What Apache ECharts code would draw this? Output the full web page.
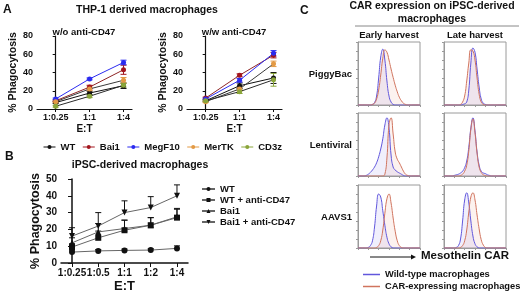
<!DOCTYPE html>
<html>
<head>
<meta charset="utf-8">
<script src="https://cdn.jsdelivr.net/npm/echarts@6/dist/echarts.min.js"></script>
<style>
  html, body { margin: 0; padding: 0; background: #fff; }
  #main { width: 520px; height: 294px; }
</style>
</head>
<body>
<div id="main"></div>
<script>
// E:T ratios
var etA = ['1:0.25', '1:1', '1:4'];
var etB = ['1:0.25', '1:0.5', '1:1', '1:2', '1:4'];

// panel A, w/o anti-CD47 (% phagocytosis)
var woWT = [7, 17.5, 25.5];
var woBai1 = [9, 24, 43];
var woMegF10 = [11, 33, 51];
var woMerTK = [8, 22, 31.5];
var woCD3z = [3, 14, 26];
var woErrWT = [1, 2, 3];
var woErrBai1 = [1, 2, 5];
var woErrMegF10 = [1, 1, 2.5];
var woErrMerTK = [1, 2, 3];
var woErrCD3z = [1, 1.5, 2];

// panel A, w/w anti-CD47
var wwWT = [9, 25.5, 34];
var wwBai1 = [12, 37, 59];
var wwMegF10 = [11, 31.5, 61];
var wwMerTK = [8, 22, 49.5];
var wwCD3z = [9, 19, 32];
var wwErrWT = [1, 3, 6];
var wwErrBai1 = [1, 1.5, 3];
var wwErrMegF10 = [1, 2, 3];
var wwErrMerTK = [1, 2, 3];
var wwErrCD3z = [1, 2, 7];

// panel B
var bWT = [6.5, 7.2, 7.5, 7.7, 8.7];
var bWTanti = [9.5, 15, 19.5, 22.5, 27];
var bBai1 = [12, 18.5, 20.5, 22.5, 27.5];
var bBai1anti = [16, 22, 30, 33, 40];
var bErrWT = [0.8, 0.8, 0.8, 0.8, 1.5];
var bErrWTanti = [2, 4, 6, 4.5, 5];
var bErrBai1 = [3, 5, 5, 4.5, 5];
var bErrBai1anti = [5, 8, 7, 6.5, 6.5];

// panel C histograms (relative counts, 31 bins along the CAR axis)
var rows = ['PiggyBac', 'Lentiviral', 'AAVS1'];
var pbEarlyWT  = [0,0,0,0,0,0,0,1,4,15,45,80,93,75,40,15,5,1,0,0,0,0,0,0,0,0,0,0,0,0,0];
var pbEarlyCAR = [0,0,0,0,0,0,0,1,3,10,25,50,78,92,88,75,60,46,33,22,13,7,3,1,0,0,0,0,0,0,0];
var pbLateWT   = [0,0,0,0,0,0,0,0,0,1,2,5,25,70,95,88,60,30,10,3,1,0,0,0,0,0,0,0,0,0,0];
var pbLateCAR  = [0,0,0,0,0,0,0,0,1,5,15,40,70,92,90,75,45,18,5,1,0,0,0,0,0,0,0,0,0,0,0];
var lvEarlyWT  = [0,0,0,0,1,3,6,10,15,22,32,45,62,85,97,80,35,15,10,7,5,3,1,0,0,0,0,0,0,0,0];
var lvEarlyCAR = [0,0,0,0,0,0,0,0,0,0,0,0,0,3,30,85,97,70,40,28,22,15,8,3,1,0,0,0,0,0,0];
var lvLateWT   = [0,0,0,0,0,1,2,3,5,8,14,25,48,80,97,75,40,18,8,5,4,2,1,0,0,0,0,0,0,0,0];
var lvLateCAR  = [0,0,0,0,0,0,0,0,1,3,8,18,42,78,95,72,38,15,6,2,1,0,0,0,0,0,0,0,0,0,0];
var aaEarlyWT  = [0,0,0,0,0,1,4,12,35,70,90,85,62,38,18,7,2,0,0,0,0,0,0,0,0,0,0,0,0,0,0];
var aaEarlyCAR = [0,0,0,0,0,0,0,0,0,1,4,12,30,58,82,90,75,50,28,12,4,1,0,0,0,0,0,0,0,0,0];
var aaLateWT   = [0,0,0,0,0,0,1,4,15,45,80,92,75,45,20,7,2,0,0,0,0,0,0,0,0,0,0,0,0,0,0];
var aaLateCAR  = [0,0,0,0,0,0,0,0,1,4,12,30,60,85,92,80,55,32,14,5,1,0,0,0,0,0,0,0,0,0,0];

var FONT = '"Liberation Sans", Arial, sans-serif';
var colA = { WT: '#111111', Bai1: '#a3161e', MegF10: '#2b2bf0', MerTK: '#e39a45', CD3z: '#8aa53a' };
var lineA = { WT: '#111111', Bai1: '#8e2424', MegF10: '#2b2bf0', MerTK: '#3a3a3a', CD3z: '#2a2a2a' };
var blueLine = '#6157dc', redLine = '#d0745e';

var myChart = echarts.init(document.getElementById('main'));

function toXY(arr) {
  return arr.map(function (v, i) { return [i, v]; });
}

function errBars(vals, errs, idx, color, both) {
  return {
    type: 'custom', xAxisIndex: idx, yAxisIndex: idx, silent: true, z: 1,
    data: vals.map(function (v, i) { return [i, v, errs[i]]; }),
    renderItem: function (params, api) {
      var x = api.value(0), y = api.value(1), e = api.value(2);
      var top = api.coord([x, y + e]);
      var bot = api.coord([x, both ? y - e : y]);
      var st = { stroke: color, lineWidth: 1 };
      var kids = [
        { type: 'line', shape: { x1: top[0], y1: top[1], x2: bot[0], y2: bot[1] }, style: st },
        { type: 'line', shape: { x1: top[0] - 3, y1: top[1], x2: top[0] + 3, y2: top[1] }, style: st }
      ];
      if (both) kids.push({ type: 'line', shape: { x1: bot[0] - 3, y1: bot[1], x2: bot[0] + 3, y2: bot[1] }, style: st });
      return { type: 'group', children: kids };
    }
  };
}

function lineA_(name, vals, idx) {
  return {
    name: name, type: 'line', xAxisIndex: idx, yAxisIndex: idx, z: 3,
    data: toXY(vals), symbol: 'circle', symbolSize: 5,
    itemStyle: { color: colA[name] },
    lineStyle: { color: lineA[name], width: 1 }
  };
}

// panel B series get an "iPSC " prefix so their legend is separate from panel A
function lineB(name, vals, sym, rot) {
  return {
    name: 'iPSC ' + name, type: 'line', xAxisIndex: 2, yAxisIndex: 2, z: 3,
    data: toXY(vals), symbol: sym, symbolRotate: rot || 0, symbolSize: 6,
    itemStyle: { color: '#111' },
    lineStyle: { color: '#666', width: 1 }
  };
}

function histLine(name, vals, idx, color, fill) {
  return {
    name: name, type: 'line', xAxisIndex: idx, yAxisIndex: idx,
    data: toXY(vals), smooth: true, symbol: 'none',
    itemStyle: { color: color },
    lineStyle: { color: color, width: 1 },
    areaStyle: { color: fill }
  };
}

// grids: 0/1 panel A, 2 panel B, 3..8 panel C (row major, early then late)
var grids = [
  { left: 37, top: 36, width: 95, height: 73 },
  { left: 187, top: 36, width: 95, height: 73 },
  { left: 61, top: 179, width: 127, height: 84 }
];
var boxTop = [42, 113, 185];
var boxLeft = [358, 444];
boxTop.forEach(function (t) {
  boxLeft.forEach(function (l) {
    grids.push({ left: l, top: t, width: 62, height: 63, show: true, borderColor: '#9a9a9a', borderWidth: 1 });
  });
});

var axText = { fontFamily: FONT, fontWeight: 'bold', color: '#111' };

function xA(idx) {
  return {
    gridIndex: idx, type: 'value', min: -0.55, max: 2.25,
    name: 'E:T', nameLocation: 'middle', nameGap: 15,
    nameTextStyle: { fontFamily: FONT, fontWeight: 'bold', fontSize: 10, color: '#111' },
    axisLine: { lineStyle: { color: '#111', width: 1.2 } },
    axisTick: { length: 3, customValues: [0, 1, 2], lineStyle: { color: '#111' } },
    axisLabel: Object.assign({ fontSize: 9, margin: 4, customValues: [0, 1, 2],
      formatter: function (v) { return etA[Math.round(v)]; } }, axText),
    splitLine: { show: false }
  };
}
function yA(idx) {
  return {
    gridIndex: idx, type: 'value', min: 0, max: 80, interval: 20,
    name: '% Phagocytosis', nameLocation: 'middle', nameGap: 16,
    nameTextStyle: { fontFamily: FONT, fontWeight: 'bold', fontSize: 10.5, color: '#111' },
    axisLine: { show: true, lineStyle: { color: '#111', width: 1.2 } },
    axisTick: { show: true, length: 3, lineStyle: { color: '#111' } },
    axisLabel: Object.assign({ fontSize: 9, margin: 4 }, axText),
    splitLine: { show: false }
  };
}

var xAxes = [xA(0), xA(1), {
  gridIndex: 2, type: 'value', min: -0.42, max: 4.42,
  name: 'E:T', nameLocation: 'middle', nameGap: 17,
  nameTextStyle: { fontFamily: FONT, fontWeight: 'bold', fontSize: 13, color: '#111' },
  axisLine: { lineStyle: { color: '#111', width: 1.5 } },
  axisTick: { length: 4, customValues: [0, 1, 2, 3, 4], lineStyle: { color: '#111' } },
  axisLabel: Object.assign({ fontSize: 10, margin: 5, customValues: [0, 1, 2, 3, 4],
    formatter: function (v) { return etB[Math.round(v)]; } }, axText),
  splitLine: { show: false }
}];
var yAxes = [yA(0), yA(1), {
  gridIndex: 2, type: 'value', min: 0, max: 50, interval: 10,
  name: '% Phagocytosis', nameLocation: 'middle', nameGap: 16,
  nameTextStyle: { fontFamily: FONT, fontWeight: 'bold', fontSize: 12.5, color: '#111' },
  axisLine: { show: true, lineStyle: { color: '#111', width: 1.5 } },
  axisTick: { show: true, length: 4, lineStyle: { color: '#111' } },
  axisLabel: Object.assign({ fontSize: 10, margin: 4 }, axText),
  splitLine: { show: false }
}];
for (var g = 3; g < 9; g++) {
  xAxes.push({
    gridIndex: g, type: 'value', min: 0, max: 30, interval: 5,
    axisLine: { lineStyle: { color: '#9a9a9a' } },
    axisTick: { length: 2, lineStyle: { color: '#9a9a9a' } },
    axisLabel: { show: false }, splitLine: { show: false }
  });
  yAxes.push({
    gridIndex: g, type: 'value', min: 0, max: 105, interval: 15,
    axisLine: { show: true, lineStyle: { color: '#9a9a9a' } },
    axisTick: { show: true, length: 2, lineStyle: { color: '#9a9a9a' } },
    axisLabel: { show: false }, splitLine: { show: false }
  });
}

var WTN = 'Wild-type macrophages', CARN = 'CAR-expressing macrophages';
var blueFill = 'rgba(125,115,230,0.16)', redFill = 'rgba(230,140,115,0.16)';
var hist = [
  [pbEarlyWT, pbEarlyCAR], [pbLateWT, pbLateCAR],
  [lvEarlyWT, lvEarlyCAR], [lvLateWT, lvLateCAR],
  [aaEarlyWT, aaEarlyCAR], [aaLateWT, aaLateCAR]
];

var series = [
  errBars(woWT, woErrWT, 0, colA.WT, true),
  errBars(woBai1, woErrBai1, 0, colA.Bai1, true),
  errBars(woMegF10, woErrMegF10, 0, colA.MegF10, true),
  errBars(woMerTK, woErrMerTK, 0, colA.MerTK, true),
  errBars(woCD3z, woErrCD3z, 0, colA.CD3z, true),
  lineA_('WT', woWT, 0), lineA_('Bai1', woBai1, 0), lineA_('MegF10', woMegF10, 0),
  lineA_('MerTK', woMerTK, 0), lineA_('CD3z', woCD3z, 0),
  errBars(wwWT, wwErrWT, 1, colA.WT, true),
  errBars(wwBai1, wwErrBai1, 1, colA.Bai1, true),
  errBars(wwMegF10, wwErrMegF10, 1, colA.MegF10, true),
  errBars(wwMerTK, wwErrMerTK, 1, colA.MerTK, true),
  errBars(wwCD3z, wwErrCD3z, 1, colA.CD3z, true),
  lineA_('WT', wwWT, 1), lineA_('Bai1', wwBai1, 1), lineA_('MegF10', wwMegF10, 1),
  lineA_('MerTK', wwMerTK, 1), lineA_('CD3z', wwCD3z, 1),
  errBars(bWT, bErrWT, 2, '#111', false),
  errBars(bWTanti, bErrWTanti, 2, '#111', false),
  errBars(bBai1, bErrBai1, 2, '#111', false),
  errBars(bBai1anti, bErrBai1anti, 2, '#111', false),
  lineB('WT', bWT, 'circle', 0),
  lineB('WT + anti-CD47', bWTanti, 'rect', 0),
  lineB('Bai1', bBai1, 'triangle', 0),
  lineB('Bai1 + anti-CD47', bBai1anti, 'triangle', 180)
];
hist.forEach(function (pair, i) {
  series.push(histLine(WTN, pair[0], i + 3, blueLine, blueFill));
  series.push(histLine(CARN, pair[1], i + 3, redLine, redFill));
});

function t(text, x, y, size, align) {
  return { text: text, left: x, top: y, padding: 0, textAlign: align || 'left',
    textStyle: { fontFamily: FONT, fontWeight: 'bold', fontSize: size, color: '#111' } };
}

var titles = [
  t('A', 3, 4, 12),
  t('THP-1 derived macrophages', 147, 5, 10.5, 'center'),
  t('w/o anti-CD47', 84, 27, 9.5, 'center'),
  t('w/w anti-CD47', 234, 27, 9.5, 'center'),
  t('B', 5, 151, 12),
  t('iPSC-derived macrophages', 140, 160, 10.5, 'center'),
  t('C', 300, 5, 12),
  t('CAR expression on iPSC-derived', 432, 1, 10.5, 'center'),
  t('macrophages', 432, 14, 10.5, 'center'),
  t('Early harvest', 389, 30, 9.5, 'center'),
  t('Late harvest', 475, 30, 9.5, 'center'),
  t('Mesothelin CAR', 421, 250, 11.5)
];
rows.forEach(function (r, i) {
  titles.push(t(r, 352, boxTop[i] + 27, 9.5, 'right'));
});

var legItem = function (name, c, lc) {
  return { name: name, itemStyle: { color: c }, lineStyle: { color: lc, width: 1 } };
};
var legText = { fontFamily: FONT, fontWeight: 'bold', fontSize: 9.5, color: '#111' };

myChart.setOption({
  animation: false,
  textStyle: { fontFamily: FONT },
  title: titles,
  legend: [
    {
      left: 38, top: 137, itemWidth: 12, itemHeight: 5, itemGap: 7,
      textStyle: legText,
      data: [legItem('WT', colA.WT, colA.WT), legItem('Bai1', colA.Bai1, colA.Bai1),
        legItem('MegF10', colA.MegF10, colA.MegF10), legItem('MerTK', colA.MerTK, colA.MerTK),
        legItem('CD3z', colA.CD3z, colA.CD3z)]
    },
    {
      left: 196, top: 179, orient: 'vertical', itemWidth: 13, itemHeight: 5, itemGap: 1, height: 60,
      textStyle: legText,
      formatter: function (n) { return n.replace('iPSC ', ''); },
      data: ['iPSC WT', 'iPSC WT + anti-CD47', 'iPSC Bai1', 'iPSC Bai1 + anti-CD47']
    },
    {
      left: 358, top: 265, orient: 'vertical', itemWidth: 17, itemHeight: 1.5, itemGap: 3, height: 40,
      icon: 'rect',
      textStyle: { fontFamily: FONT, fontWeight: 'bold', fontSize: 9.3, color: '#111' },
      data: [WTN, CARN]
    }
  ],
  grid: grids,
  xAxis: xAxes,
  yAxis: yAxes,
  series: series,
  graphic: [
    { type: 'line', shape: { x1: 355, y1: 26, x2: 519, y2: 26 }, style: { stroke: '#888', lineWidth: 1 } },
    { type: 'line', shape: { x1: 370, y1: 257, x2: 412, y2: 257 }, style: { stroke: '#111', lineWidth: 1 } },
    { type: 'polygon', shape: { points: [[411, 254.5], [416, 257], [411, 259.5]] }, style: { fill: '#111' } }
  ]
});
</script>
</body>
</html>
